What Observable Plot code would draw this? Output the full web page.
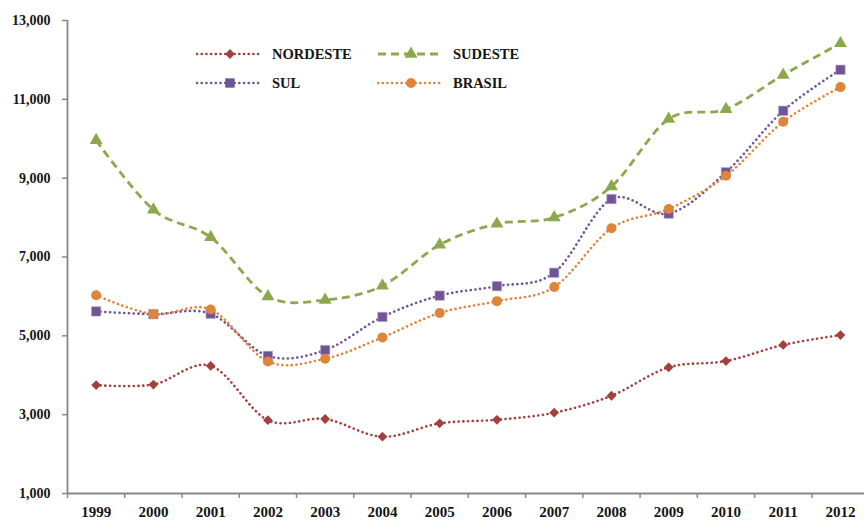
<!DOCTYPE html>
<html>
<head>
<meta charset="utf-8">
<script src="https://cdn.jsdelivr.net/npm/d3@7"></script>
<script src="https://cdn.jsdelivr.net/npm/@observablehq/plot@0.6"></script>
<style>
  html, body { margin: 0; padding: 0; background: #fff; }
  #chart { position: relative; width: 864px; height: 520px; overflow: hidden; }
  .legend-item { position: absolute; display: flex; align-items: center; height: 16px;
    font-family: "Liberation Serif", "DejaVu Serif", serif; font-weight: bold; font-size: 14.5px; color: #151515; }
  .legend-item svg { display: block; margin-right: 9px; }
</style>
</head>
<body>
<div id="chart"></div>
<script>
// ---- data ----
const years = [1999, 2000, 2001, 2002, 2003, 2004, 2005, 2006, 2007, 2008, 2009, 2010, 2011, 2012];
const nordeste = [3750, 3765, 4240, 2860, 2890, 2440, 2780, 2870, 3050, 3480, 4200, 4360, 4770, 5020];
const sudeste  = [9960, 8200, 7500, 6000, 5910, 6270, 7310, 7840, 8000, 8790, 10500, 10750, 11620, 12420];
const sul      = [5620, 5550, 5560, 4490, 4640, 5480, 6020, 6260, 6600, 8470, 8100, 9150, 10710, 11750];
const brasil   = [6030, 5550, 5670, 4350, 4420, 4960, 5580, 5880, 6240, 7730, 8220, 9060, 10430, 11310];
const seriesNames = ["NORDESTE", "SUDESTE", "SUL", "BRASIL"];
const seriesValues = [nordeste, sudeste, sul, brasil];
const seriesColors = ["#A33F3C", "#8BA84C", "#6F5596", "#E0843A"];
const seriesSymbols = ["diamond2", "triangle", "square", "circle"];
const seriesDash = ["0.1 4.6", "8 5", "0.1 4.6", "0.1 4.6"];
const seriesR = [4.4, 4.8, 5.3, 5];
const yTicks = [1000, 3000, 5000, 7000, 9000, 11000, 13000];

// ---- build rows ----
const rows = seriesNames.map((name, i) =>
  years.map((year, j) => ({series: name, year, value: seriesValues[i][j]})));

const bounds = d3.range(years[0] - 0.5, years[years.length - 1] + 1, 1);
const axisColor = "#878787";
const font = "'Liberation Serif', 'DejaVu Serif', serif";

const marks = [];
// axes
marks.push(Plot.ruleX([years[0] - 0.5], {y1: yTicks[0], y2: yTicks[yTicks.length - 1], stroke: axisColor, strokeWidth: 1.8}));
marks.push(Plot.ruleY([yTicks[0]], {x1: years[0] - 0.5, x2: years[years.length - 1] + 0.5, stroke: axisColor, strokeWidth: 1.8}));
marks.push(Plot.axisY({ticks: yTicks, tickFormat: d3.format(","), tickSize: 5, tickPadding: 12, label: null,
  stroke: axisColor, strokeWidth: 1.5, fill: "#151515", fontSize: 14, fontWeight: "bold", fontFamily: font}));
marks.push(Plot.axisX({ticks: bounds, tickSize: 5, tickFormat: () => "", label: null, stroke: axisColor, strokeWidth: 1.5}));
marks.push(Plot.axisX({ticks: years, tickSize: 0, tickPadding: 13, tickFormat: d => String(d), label: null,
  fill: "#151515", fontSize: 15, fontWeight: "bold", fontFamily: font}));

// series
rows.forEach((data, i) => {
  marks.push(Plot.line(data, {x: "year", y: "value", stroke: seriesColors[i], strokeWidth: i === 1 ? 2.8 : 2.6,
    strokeDasharray: seriesDash[i], strokeLinecap: i === 1 ? "butt" : "round", curve: "cardinal"}));
});
rows.forEach((data, i) => {
  marks.push(Plot.dot(data, {x: "year", y: "value", symbol: seriesSymbols[i], fill: seriesColors[i],
    r: seriesR[i], stroke: i === 2 ? "#b9a9d0" : "none", strokeWidth: 0.6}));
});

const plot = Plot.plot({
  width: 864,
  height: 520,
  marginLeft: 67,
  marginTop: 20,
  marginBottom: 27,
  marginRight: 0,
  x: {type: "linear", domain: [years[0] - 0.5, years[years.length - 1] + 0.5], range: [67, 868.6], axis: null, label: null},
  y: {domain: [yTicks[0], yTicks[yTicks.length - 1]], range: [493, 20], axis: null, label: null},
  style: {fontFamily: font, background: "#fff"},
  marks
});
const chart = document.getElementById("chart");
chart.appendChild(plot);

// ---- legend (overlay) ----
const legendPos = [[196, 54], [377, 54], [196, 83], [377, 83]];
seriesNames.forEach((name, i) => {
  const item = document.createElement("div");
  item.className = "legend-item";
  item.style.left = legendPos[i][0] + "px";
  item.style.top = (legendPos[i][1] - 8) + "px";
  const svg = d3.create("svg").attr("width", 67).attr("height", 16);
  svg.append("line").attr("x1", 1).attr("x2", 66).attr("y1", 8).attr("y2", 8)
    .attr("stroke", seriesColors[i]).attr("stroke-width", i === 1 ? 2.8 : 2.6)
    .attr("stroke-dasharray", seriesDash[i]).attr("stroke-linecap", i === 1 ? "butt" : "round");
  const symMap = {diamond2: d3.symbolDiamond2, triangle: d3.symbolTriangle, square: d3.symbolSquare, circle: d3.symbolCircle};
  svg.append("path").attr("transform", "translate(34,8)")
    .attr("d", d3.symbol(symMap[seriesSymbols[i]], Math.PI * seriesR[i] * seriesR[i])())
    .attr("fill", seriesColors[i]);
  item.appendChild(svg.node());
  const label = document.createElement("span");
  label.textContent = name;
  item.appendChild(label);
  chart.appendChild(item);
});
</script>
</body>
</html>
